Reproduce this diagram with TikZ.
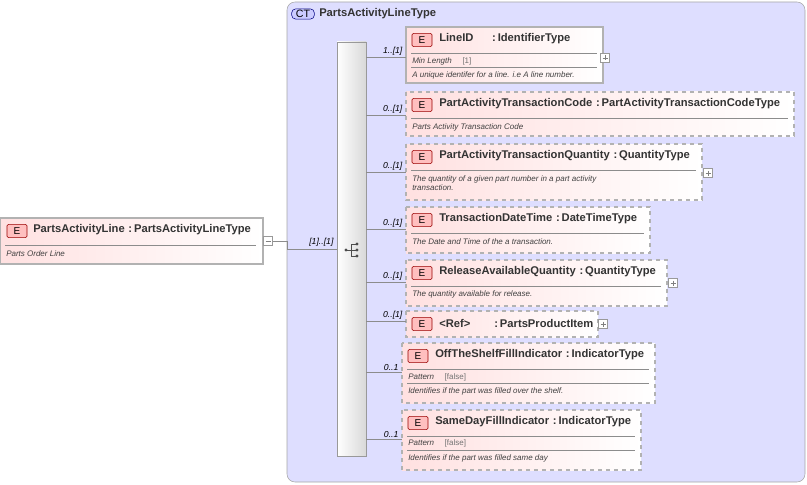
\documentclass[tikz,border=0pt]{standalone}
\usepackage{fontspec}
\setmainfont{Liberation Sans}
\begin{document}
\begin{tikzpicture}[x=0.75pt,y=-0.75pt,
 ebox/.style={draw=black!30,left color=red!12,right color=white,line width=0.8pt},
 dbox/.style={ebox,dashed},
 badge/.style={draw=red!60!black,fill=red!25,rounded corners=1pt,minimum width=15pt,minimum height=10pt,inner sep=0pt,font=\fontsize{7.5}{9}\selectfont},
 ttl/.style={anchor=west,inner sep=0pt,font=\bfseries\fontsize{8.4}{9}\selectfont,text=black!80},
 desc/.style={anchor=west,inner sep=0pt,font=\itshape\fontsize{6}{7}\selectfont,text=black!75,align=left},
 card/.style={anchor=south east,inner sep=1pt,font=\itshape\fontsize{6.5}{7}\selectfont},
 sep/.style={draw=black!45,line width=0.5pt},
 pm/.style={draw=black!40,fill=white,minimum size=6.5pt,inner sep=0pt},
 conn/.style={draw=black!45,line width=0.5pt}]
\useasboundingbox (0,0) rectangle (807,485);
% CT box
\draw[draw=black!35,fill=blue!13,rounded corners=6pt] (287,2) rectangle (805,482);
\node[draw=blue!50!black,fill=blue!20,rounded corners=3pt,inner sep=1pt,minimum width=17pt,font=\fontsize{8}{9}\selectfont] (ct) at (303,14) {CT};
\node[ttl] (ctt) at (319,14) {PartsActivityLineType};
% sequence bar
\draw[draw=black!40,left color=white,right color=black!15] (337,42) rectangle (366,456);
\node (seq) at (352,250) {};
\fill[black!70] (346,250) circle (1.6);
\draw[black!70,line width=0.7pt] (346,250)--(351,250) (351,244)--(351,256) (351,244)--(357,244) (351,250)--(357,250) (351,256)--(357,256);
\foreach \yy in {244,250,256} \fill[black!70] (357,\yy) circle (1.6);
% root
\draw[ebox] (0,218) rectangle (263,264);
\node[badge] (re) at (17,231) {E};
\node[ttl] (rt) at (33,230) {PartsActivityLine\,\,:\,PartsActivityLineType};
\draw[sep] (5,245) -- (256,245);
\node[desc] (rd) at (6,254) {Parts Order Line};
\node[pm] (rm) at (268,241) {};
\draw[black!50,line width=0.4pt] (265.5,241)--(270.5,241);
\coordinate (bl) at (337,249);
\draw[conn] (rm.east) -- (287,241) -- (287,249) -- (bl);
\node[card] at (335,248) {[1]..[1]};
% children
\newcommand\child[9]{% #1 style #2 left #3 top #4 right #5 bottom #6 liney #7 card #8 title #9 body
 \draw[#1] (#2,#3) rectangle (#4,#5);
 \node[badge] at (#2+16,#3+13) {E};
 \node[ttl] at (#2+33,#3+12) {#8};
 \draw[sep] (#2+5,#3+26) -- (#4-6,#3+26);
 #9
 \coordinate (c#6) at (#2,#6);
 \draw[conn] (366,#6) -- (c#6);
 \node[card] at (#2-2,#6) {#7};
}
\child{ebox}{406}{27}{603}{83}{57}{1..[1]}{LineID\hspace{14pt}:\,IdentifierType}{
 \node[desc] at (412,61) {Min Length\hspace{8pt}\textup{\color{black!55}[1]}};
 \draw[sep] (411,67)--(597,67);
 \node[desc] at (412,75) {A unique identifer for a line. i.e A line number.};
 \node[pm] at (605,58) {};\draw[black!50,line width=0.4pt] (602.5,58)--(607.5,58) (605,55.5)--(605,60.5);}
\child{dbox}{406}{92}{794}{136}{115}{0..[1]}{PartActivityTransactionCode\,\,:\,PartActivityTransactionCodeType}{
 \node[desc] at (412,127) {Parts Activity Transaction Code};}
\child{dbox}{406}{144}{702}{200}{172}{0..[1]}{PartActivityTransactionQuantity\,\,:\,QuantityType}{
 \node[desc] at (412,183) {The quantity of a given part number in a part activity\\transaction.};
 \node[pm] at (708,173) {};\draw[black!50,line width=0.4pt] (705.5,173)--(710.5,173) (708,170.5)--(708,175.5);}
\child{dbox}{406}{207}{650}{253}{229}{0..[1]}{TransactionDateTime\,\,:\,DateTimeType}{
 \node[desc] at (412,242) {The Date and Time of the a transaction.};}
\child{dbox}{406}{260}{667}{306}{282}{0..[1]}{ReleaseAvailableQuantity\,\,:\,QuantityType}{
 \node[desc] at (412,294) {The quantity available for release.};
 \node[pm] at (673,283) {};\draw[black!50,line width=0.4pt] (670.5,283)--(675.5,283) (673,280.5)--(673,285.5);}
% Ref (no separator)
\draw[dbox] (406,311) rectangle (598,337);
\node[badge] at (422,324) {E};
\node[ttl] at (439,323) {<Ref>\hspace{18pt}:\,PartsProductItem};
\coordinate (cref) at (406,321);
\draw[conn] (366,321) -- (cref);
\node[card] at (404,321) {0..[1]};
\node[pm] at (603,324) {};\draw[black!50,line width=0.4pt] (600.5,324)--(605.5,324) (603,321.5)--(603,326.5);
\child{dbox}{402}{343}{655}{403}{372}{0..1}{OffTheShelfFillIndicator\,\,:\,IndicatorType}{
 \node[desc] at (408,377) {Pattern\hspace{8pt}\textup{\color{black!55}[false]}};
 \draw[sep] (407,383)--(649,383);
 \node[desc] at (408,391) {Identifies if the part was filled over the shelf.};}
\child{dbox}{402}{410}{641}{470}{439}{0..1}{SameDayFillIndicator\,\,:\,IndicatorType}{
 \node[desc] at (408,443) {Pattern\hspace{8pt}\textup{\color{black!55}[false]}};
 \draw[sep] (407,450)--(635,450);
 \node[desc] at (408,458) {Identifies if the part was filled same day};}
\end{tikzpicture}
\end{document}
